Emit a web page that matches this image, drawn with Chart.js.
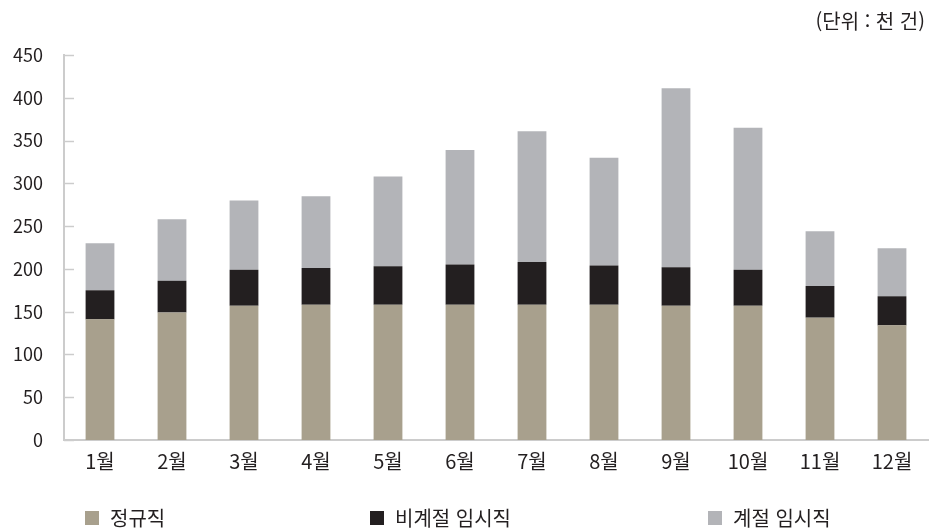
<!DOCTYPE html>
<html lang="ko">
<head>
<meta charset="utf-8">
<script src="https://cdn.jsdelivr.net/npm/chart.js@4"></script>
<style>
    html, body { margin: 0; padding: 0; background: #fff; }
    #wrap { position: relative; width: 931px; height: 530px; }
    #unit {
        position: absolute; right: 6px; top: 6px;
        font: 20px "Noto Sans CJK KR", sans-serif; color: #231f20;
    }
    #legend { margin: 0; padding: 0; list-style: none; }
    #legend li {
        position: absolute; top: 503px;
        display: flex; align-items: center;
        font: 20px "Noto Sans CJK KR", sans-serif; color: #231f20;
    }
    #legend .box { width: 14px; height: 14px; margin-right: 11px; display: inline-block; }
</style>
</head>
<body>
<div id="wrap">
    <canvas id="chart" width="931" height="530"></canvas>
    <div id="unit">(단위 : 천 건)</div>
    <ul id="legend"></ul>
</div>
<script>
const months = ['1월', '2월', '3월', '4월', '5월', '6월', '7월', '8월', '9월', '10월', '11월', '12월'];
const regular = [141, 149, 157, 158, 158, 158, 158, 158, 157, 157, 143, 134];
const nonSeasonal = [34, 37, 42, 43, 45, 47, 50, 46, 45, 42, 37, 34];
const seasonal = [55, 72, 81, 84, 105, 134, 153, 126, 209, 166, 64, 56];
const seriesNames = ['정규직', '비계절 임시직', '계절 임시직'];
const colors = ['#a8a08d', '#231f20', '#b3b4b8'];
const legendLeft = [85, 370, 708];

// short tick marks pointing into the plot area, like the original
const innerTicks = {
    id: 'innerTicks',
    afterDatasetsDraw(chart) {
        const y = chart.scales.y;
        const ctx = chart.ctx;
        ctx.save();
        ctx.strokeStyle = '#cccccc';
        ctx.lineWidth = 1.5;
        y.ticks.forEach(t => {
            const py = Math.round(y.getPixelForValue(t.value)) + 0.5;
            ctx.beginPath();
            ctx.moveTo(y.right, py);
            ctx.lineTo(y.right + 10, py);
            ctx.stroke();
        });
        ctx.restore();
    }
};

const datasets = [regular, nonSeasonal, seasonal].map((d, i) => ({
    label: seriesNames[i],
    data: d,
    backgroundColor: colors[i],
    borderWidth: 0,
    barPercentage: 0.4,
    categoryPercentage: 1.0
}));

new Chart(document.getElementById('chart'), {
    type: 'bar',
    data: { labels: months, datasets: datasets },
    plugins: [innerTicks],
    options: {
        responsive: false,
        animation: false,
        layout: { padding: { top: 55, right: 3, left: 0, bottom: 0 } },
        scales: {
            x: {
                stacked: true,
                grid: { display: false, drawTicks: false },
                border: { color: '#cccccc', width: 2 },
                ticks: {
                    color: '#231f20',
                    padding: 9,
                    font: { family: '"Noto Sans CJK KR"', size: 20 }
                },
                afterFit: s => { s.height = 90; }
            },
            y: {
                stacked: true,
                min: 0,
                max: 450,
                grid: { display: false, drawTicks: false },
                border: { color: '#cccccc', width: 2 },
                ticks: {
                    stepSize: 50,
                    color: '#231f20',
                    padding: 21,
                    font: { family: '"Noto Sans CJK KR"', size: 18 }
                },
                afterFit: s => { s.width = 64; }
            }
        },
        plugins: {
            legend: { display: false },
            tooltip: { enabled: false }
        }
    }
});

const legendUl = document.getElementById('legend');
seriesNames.forEach((name, i) => {
    const li = document.createElement('li');
    li.style.left = legendLeft[i] + 'px';
    li.innerHTML = `<span class="box" style="background:${colors[i]}"></span><span>${name}</span>`;
    legendUl.appendChild(li);
});
</script>
</body>
</html>
